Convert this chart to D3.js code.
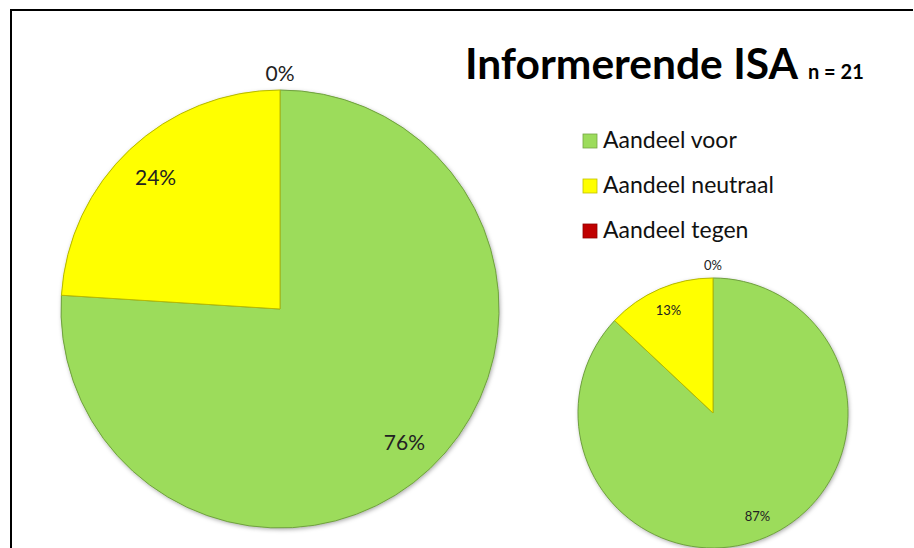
<!DOCTYPE html>
<html><head><meta charset="utf-8">
<script src="https://cdn.jsdelivr.net/npm/d3@7"></script>
<style>body{margin:0;background:#fff}svg{display:block}</style>
</head><body>
<script>
const categories = ["Aandeel voor", "Aandeel neutraal", "Aandeel tegen"];
const valuesLarge = [76, 24, 0];
const valuesSmall = [87, 13, 0];
const colors = ["#9cdc5b", "#ffff00", "#c00000"];
const titleText = "Informerende ISA";
const subText = "n = 21";

const W = 914, H = 548;
const svg = d3.select("body").append("svg").attr("width", W).attr("height", H);
const defs = svg.append("defs");
const f = defs.append("filter").attr("id","sh").attr("x","-20%").attr("y","-20%").attr("width","140%").attr("height","140%");
f.append("feDropShadow").attr("dx",1).attr("dy",1.5).attr("stdDeviation",2).attr("flood-color","#000").attr("flood-opacity",0.35);

// frame
svg.append("path").attr("d", `M11,${H} L11,10 L913,10`).attr("fill","none").attr("stroke","#000").attr("stroke-width",2);

const color = d3.scaleOrdinal().domain(categories).range(colors);
const pie = d3.pie().sort(null).value(d => d.v);

function drawPie(values, cx, cy, r, fontSize, zeroOffset) {
  const data = categories.map((c, i) => ({c, v: values[i]}));
  const arcs = pie(data);
  const g = svg.append("g").attr("transform", `translate(${cx},${cy})`);
  const arc = d3.arc().innerRadius(0).outerRadius(r);
  g.append("circle").attr("r", r).attr("fill", colors[0]).attr("filter","url(#sh)");
  g.selectAll("path.s").data(arcs.filter(a => a.data.v > 0)).join("path")
    .attr("class","s").attr("d", arc)
    .attr("fill", d => color(d.data.c))
    .attr("stroke", d => d3.color(color(d.data.c)).darker(0.9))
    .attr("stroke-width", 1);
  const labelArc = d3.arc().innerRadius(r * 0.83).outerRadius(r * 0.83);
  g.selectAll("text").data(arcs).join("text")
    .attr("transform", d => {
      if (d.data.v === 0) return `translate(0,${-(r + zeroOffset)})`;
      const [x, y] = labelArc.centroid(d);
      return `translate(${x},${y})`;
    })
    .attr("text-anchor","middle").attr("dominant-baseline","central")
    .attr("font-family","Lato, 'Open Sans', sans-serif").attr("font-size", fontSize)
    .attr("fill","#222")
    .text(d => d.data.v + "%");
}

drawPie(valuesLarge, 280, 309, 219, 21, 18);
drawPie(valuesSmall, 713, 413, 135, 13, 13);

// title
const t = svg.append("text").attr("x", 465).attr("y", 79)
  .attr("font-family","Lato, 'Open Sans', sans-serif").attr("font-weight","bold");
t.append("tspan").attr("font-size", 42.5).text(titleText);
t.append("tspan").attr("font-size", 20).attr("dx", 10).text(subText);

// legend
const lg = svg.append("g").selectAll("g").data(categories).join("g")
  .attr("transform", (d, i) => `translate(583,${148 + i * 45})`);
lg.append("rect").attr("x",0).attr("y",-14).attr("width",14).attr("height",14)
  .attr("fill", d => color(d)).attr("stroke", d => d3.color(color(d)).darker(0.8)).attr("stroke-width",0.8);
lg.append("text").attr("x", 20).attr("y", 0)
  .attr("font-family","Lato, 'Open Sans', sans-serif").attr("font-size", 23).attr("fill","#111")
  .text(d => d);
</script>
</body></html>
